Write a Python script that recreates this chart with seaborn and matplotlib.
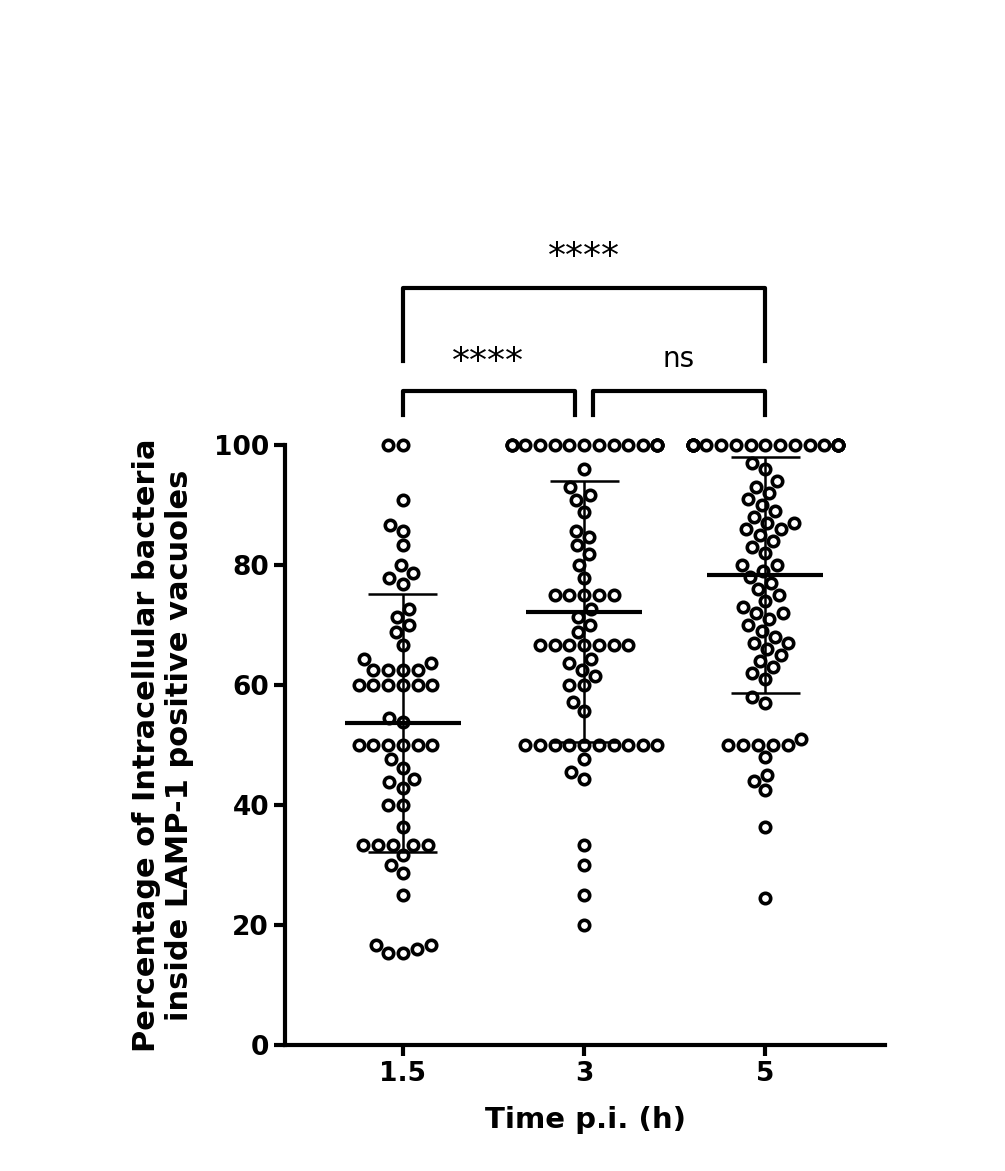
import numpy as np
import pandas as pd
import matplotlib
matplotlib.use("Agg")
import matplotlib.pyplot as plt
import seaborn as sns

categories = ["1.5", "3", "5"]
g15 = [100, 100, 90.9, 86.7, 85.7, 83.3, 80, 78.6, 77.8, 76.9, 72.7, 71.4, 70, 68.8,
       66.7, 64.3, 63.6, 62.5, 62.5, 62.5, 62.5, 60, 60, 60, 60, 60, 60, 54.5, 53.8,
       50, 50, 50, 50, 50, 50, 47.6, 46.2, 44.4, 43.8, 42.9, 40, 40, 36.4,
       33.3, 33.3, 33.3, 33.3, 33.3, 31.6, 30, 28.6, 25, 16.7, 16.7, 16, 15.4, 15.4]
g3 = [100] * 16 + [96, 93, 91.7, 90.9, 88.9, 85.7, 84.6, 83.3, 81.8, 80, 77.8,
      75, 75, 75, 75, 75, 72.7, 71.4, 70, 68.8, 66.7, 66.7, 66.7, 66.7, 66.7, 66.7, 66.7,
      64.3, 63.6, 62.5, 61.5, 60, 60, 57.1, 55.6,
      50, 50, 50, 50, 50, 50, 50, 50, 50, 50, 47.6, 45.5, 44.4, 33.3, 30, 25, 20]
g5 = [100] * 20 + [97, 96, 94, 93, 92, 91, 90, 89, 88, 87, 87, 86, 86, 85, 84, 83,
      82, 80, 80, 79, 78, 77, 76, 75, 74, 73, 72, 72, 71, 70, 69, 68, 67, 67, 66,
      65, 64, 63, 62, 61, 58, 57, 51, 50, 50, 50, 50, 50, 48, 45, 44, 42.5, 36.4, 24.5]
sig_labels = ["****", "ns", "****"]

df = pd.DataFrame({"time": ["1.5"] * len(g15) + ["3"] * len(g3) + ["5"] * len(g5),
                   "val": g15 + g3 + g5})

fig = plt.figure(figsize=(10.05, 11.71), dpi=100)
ax = fig.add_axes([0.2836, 0.1076, 0.597, 0.5124])
sns.swarmplot(data=df, x="time", y="val", order=categories, ax=ax, size=7.5,
              color="white", edgecolor="black", linewidth=2.6, warn_thresh=1)
for c in ax.collections:
    c.set_clip_on(False)

for i, g in enumerate([g15, g3, g5]):
    m, s = np.mean(g), np.std(g, ddof=1)
    hi = min(m + s, 100)
    ax.vlines(i, m - s, hi, color="black", lw=1.8, zorder=3)
    ax.hlines(m, i - 0.32, i + 0.32, color="black", lw=3, zorder=3)
    ax.hlines([m - s, hi], i - 0.19, i + 0.19, color="black", lw=1.8, zorder=3)

ax.set_xlim(-0.65, 2.66)
ax.set_ylim(0, 100)
ax.set_yticks([0, 20, 40, 60, 80, 100])
sns.despine(ax=ax)
for sp in ["left", "bottom"]:
    ax.spines[sp].set_linewidth(3)
ax.tick_params(width=3, length=8, labelsize=19)
for t in ax.get_xticklabels() + ax.get_yticklabels():
    t.set_fontweight("bold")
ax.set_xlabel("Time p.i. (h)", fontsize=21, fontweight="bold", labelpad=14)
ax.set_ylabel("Percentage of Intracellular bacteria\ninside LAMP-1 positive vacuoles",
              fontsize=22, fontweight="bold", labelpad=14)

kw = dict(color="black", lw=3, clip_on=False)
ax.plot([0, 0, 0.95, 0.95], [105, 109, 109, 105], **kw)
ax.plot([1.05, 1.05, 2, 2], [105, 109, 109, 105], **kw)
ax.plot([0, 0, 2, 2], [114, 126.2, 126.2, 114], **kw)
ax.text(0.47, 111, sig_labels[0], ha="center", va="bottom", fontsize=26)
ax.text(1.52, 112, sig_labels[1], ha="center", va="bottom", fontsize=20)
ax.text(1.0, 128.5, sig_labels[2], ha="center", va="bottom", fontsize=26)

fig.savefig("out.png", dpi=100)
